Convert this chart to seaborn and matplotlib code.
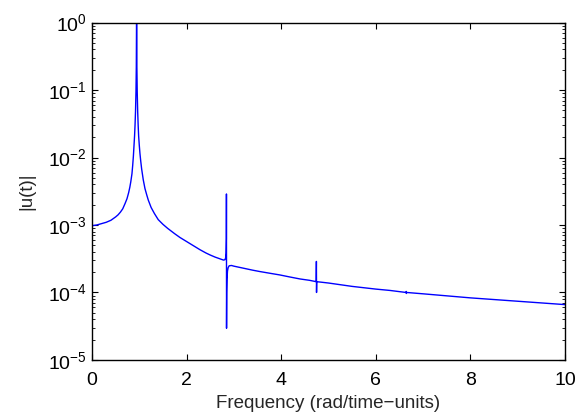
import matplotlib
matplotlib.use("Agg")
import matplotlib.pyplot as plt
import seaborn as sns
import pandas as pd
from matplotlib.ticker import LogLocator, FixedLocator

# values (frequency, log10 of |u(t)|)
frequency = [0.0, 0.1, 0.2, 0.3, 0.4, 0.5, 0.55, 0.6, 0.65, 0.70, 0.74, 0.775,
             0.80, 0.82, 0.845, 0.86, 0.875, 0.89, 0.90, 0.91, 0.92, 0.93,
             0.937, 0.941, 0.943, 0.945, 0.949, 0.956, 0.966, 0.976, 0.986,
             1.0, 1.014, 1.03, 1.05, 1.084, 1.12, 1.16, 1.19, 1.25, 1.32, 1.40,
             1.5, 1.6, 1.75, 1.86, 2.0, 2.14, 2.28, 2.41, 2.5, 2.6, 2.7, 2.78,
             2.81, 2.825, 2.835, 2.841, 2.843, 2.845, 2.849, 2.855, 2.865,
             2.88, 2.9, 2.95, 3.0, 3.2, 3.4, 3.55, 3.8, 3.97, 4.18, 4.4, 4.6,
             4.74, 4.745, 4.748, 4.752, 5.0, 5.5, 6.0, 6.3, 6.64, 6.645, 6.648,
             6.652, 7.0, 7.5, 8.0, 8.5, 9.0, 9.5, 10.0]
log_amplitude = [-3.01, -3.00, -2.98, -2.96, -2.93, -2.88, -2.85, -2.81, -2.76,
                 -2.68, -2.61, -2.52, -2.44, -2.36, -2.24, -2.12, -1.98, -1.80,
                 -1.68, -1.52, -1.32, -1.02, -0.65, -0.10, 0.30, -0.10, -0.65,
                 -1.02, -1.32, -1.52, -1.68, -1.82, -1.94, -2.05, -2.17, -2.33,
                 -2.46, -2.56, -2.63, -2.74, -2.83, -2.92, -2.99, -3.05, -3.13,
                 -3.185, -3.245, -3.305, -3.365, -3.415, -3.445, -3.475, -3.50,
                 -3.52, -3.515, -3.49, -3.42, -3.20, -2.54, -4.53, -4.00, -3.80,
                 -3.68, -3.63, -3.605, -3.60, -3.61, -3.64, -3.67, -3.69, -3.72,
                 -3.74, -3.77, -3.80, -3.82, -3.84, -3.54, -4.00, -3.84, -3.86,
                 -3.91, -3.95, -3.97, -4.00, -3.985, -4.015, -4.00, -4.02, -4.05,
                 -4.08, -4.105, -4.13, -4.155, -4.18]
x_ticks = [0, 2, 4, 6, 8, 10]

sns.set_style("ticks")
plt.rcParams["font.family"] = ["Liberation Sans", "DejaVu Sans"]
plt.rcParams["mathtext.fontset"] = "custom"
plt.rcParams["mathtext.rm"] = "Liberation Sans"
plt.rcParams["mathtext.it"] = "Liberation Sans:italic"
plt.rcParams["mathtext.default"] = "regular"

df = pd.DataFrame({"freq": frequency,
                   "amp": [10.0 ** v for v in log_amplitude]})

fig = plt.figure(figsize=(5.86, 4.19), dpi=100)
ax = fig.add_axes([0.157, 0.141, 0.807, 0.805])
sns.lineplot(data=df, x="freq", y="amp", ax=ax, color="#0000ff", linewidth=1.0,
             estimator=None, sort=False)
ax.set_yscale("log")
ax.set_xlim(0, 10)
ax.set_ylim(1e-5, 1)
ax.xaxis.set_major_locator(FixedLocator(x_ticks))
ax.yaxis.set_major_locator(LogLocator(base=10, numticks=10))
ax.yaxis.set_minor_locator(LogLocator(base=10, subs=range(2, 10), numticks=20))
ax.tick_params(axis="both", which="both", direction="in", top=True, right=True,
               labelsize=14, colors="black")
ax.tick_params(which="major", length=4, width=0.8)
ax.tick_params(which="minor", length=2, width=0.6)
ax.tick_params(axis="x", pad=9)
for s in ax.spines.values():
    s.set_linewidth(1.0)
    s.set_color("black")
ax.set_xlabel("Frequency (rad/time\u2212units)", fontsize=13.5, labelpad=4)
ax.set_ylabel("|u(t)|", fontsize=13.5, labelpad=9)

fig.savefig("out.png", dpi=100)
